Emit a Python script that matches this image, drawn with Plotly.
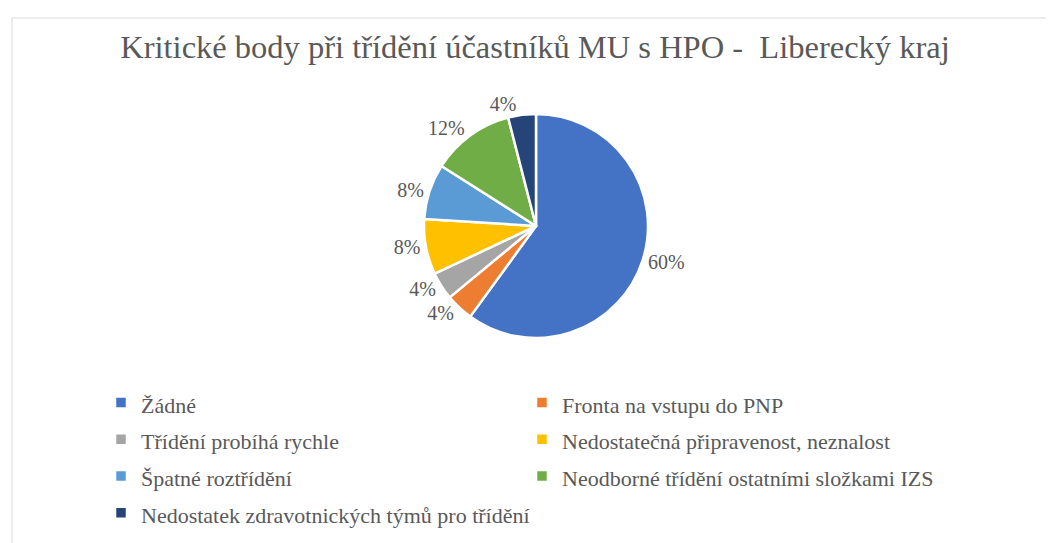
import plotly.graph_objects as go

categories = [
    "Žádné",
    "Fronta na vstupu do PNP",
    "Třídění probíhá rychle",
    "Nedostatečná připravenost, neznalost",
    "Špatné roztřídění",
    "Neodborné třídění ostatními složkami IZS",
    "Nedostatek zdravotnických týmů pro třídění",
]
values = [60, 4, 4, 8, 8, 12, 4]
colors = ["#4472C4", "#ED7D31", "#A5A5A5", "#FFC000", "#5B9BD5", "#70AD47", "#264478"]

W, H = 1054, 543
cx, cy, r = 528, 218, 112
FONT = "Liberation Serif"

# legend rows use a large base font (for row spacing) while the visible text is smaller
legend_labels = ['<span style="font-size:22px">' + c + '</span>' for c in categories]

fig = go.Figure(go.Pie(
    labels=legend_labels,
    values=values,
    sort=False,
    direction="clockwise",
    rotation=0,
    marker=dict(colors=colors, line=dict(color="white", width=2.5)),
    textinfo="percent",
    texttemplate="%{percent:.0%}",
    textposition="outside",
    textfont=dict(family=FONT, size=20, color="#595959"),
    outsidetextfont=dict(family=FONT, size=20, color="#595959"),
    domain=dict(x=[(cx - r) / W, (cx + r) / W], y=[1 - (cy + r) / H, 1 - (cy - r) / H]),
    customdata=categories,
    hovertemplate="%{customdata}: %{percent}<extra></extra>",
))

fig.update_layout(
    width=W, height=H,
    margin=dict(l=0, r=0, t=0, b=0),
    paper_bgcolor="white",
    font=dict(family=FONT, color="#595959"),
    title=dict(
        text="Kritické body při třídění účastníků MU s HPO -  Liberecký kraj",
        x=0.5, xanchor="center", y=1 - 39 / H, yanchor="middle",
        font=dict(family=FONT, size=32.5, color="#595959"),
    ),
    legend=dict(
        orientation="h",
        x=93 / W, xanchor="left",
        y=1 - 371 / H, yanchor="top",
        entrywidth=376, entrywidthmode="pixels",
        font=dict(family=FONT, size=26, color="#595959"),
        itemwidth=30,
        traceorder="normal",
    ),
    shapes=[dict(type="rect", xref="paper", yref="paper",
                 x0=4 / W, x1=1.01, y0=-0.02, y1=1 - 10 / H,
                 line=dict(color="#D9D9D9", width=1))],
)

fig.write_html("out.html")
